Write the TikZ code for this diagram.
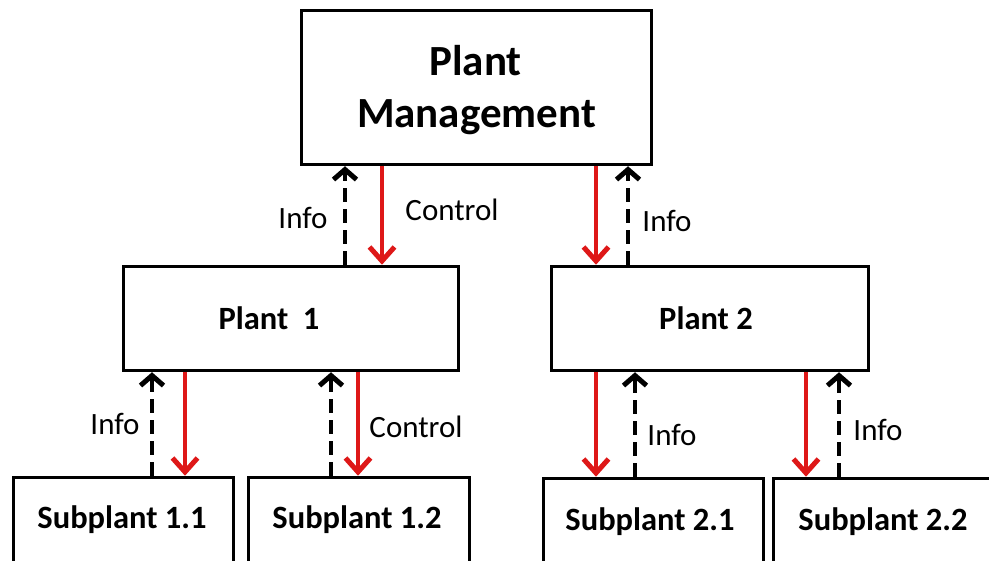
\documentclass[tikz,border=0pt]{standalone}
\usepackage{fontspec}
\setmainfont{Carlito}
\usetikzlibrary{arrows.meta}
\definecolor{ctrlred}{RGB}{222,24,24}
\tikzset{
  unit/.style={draw=black, line width=3.5pt, fill=white, inner sep=0pt},
  boxtext/.style={font=\bfseries\fontsize{32.5}{36}\selectfont, anchor=base, inner sep=0pt},
  toptext/.style={font=\bfseries\fontsize{43}{50}\selectfont, anchor=base, inner sep=0pt},
  flowlabel/.style={font=\fontsize{31}{36}\selectfont, anchor=base, inner sep=0pt},
  info/.style={draw=black, line width=3.8pt, dash pattern=on 14pt off 7pt,
    -{Straight Barb[length=10pt, width=23pt, line width=5pt]}},
  control/.style={draw=ctrlred, line width=3.8pt,
    -{Straight Barb[length=14pt, width=25pt, line width=5pt]}}
}
\begin{document}
\begin{tikzpicture}[x=1pt, y=-1pt]
\useasboundingbox (0,0) rectangle (989,561);
\clip (0,0) rectangle (989,561);
\fill[white] (0,0) rectangle (989,561);

% boxes
\node[unit, minimum width=350pt, minimum height=154pt] (pm) at (476.5,87.5) {};
\node[unit, minimum width=335pt, minimum height=104pt] (p1) at (291,318.5) {};
\node[unit, minimum width=317pt, minimum height=104pt] (p2) at (710,318.5) {};
\node[unit, minimum width=220pt, minimum height=200pt] (s11) at (123.5,577.5) {};
\node[unit, minimum width=221pt, minimum height=200pt] (s12) at (359,577.5) {};
\node[unit, minimum width=220pt, minimum height=200pt] (s21) at (653.5,578.5) {};
\node[unit, minimum width=220pt, minimum height=200pt] (s22) at (883.5,578.5) {};

% box titles
\node[toptext] (pmt1) at (475.5,76) {Plant};
\node[toptext] (pmt2) at (476.5,128) {Management};
\node[boxtext] (p1t) at (269,330) {Plant~~1};
\node[boxtext] (p2t) at (706,330) {Plant 2};
\node[boxtext] (s11t) at (122,529) {Subplant 1.1};
\node[boxtext] (s12t) at (357,529) {Subplant 1.2};
\node[boxtext] (s21t) at (650,530) {Subplant 2.1};
\node[boxtext] (s22t) at (883,530) {Subplant 2.2};

% management <-> plants
\draw[info]    (p1.north -| 345,0) -- (pm.south -| 345,0);
\draw[control] (pm.south -| 382,0) -- (p1.north -| 382,0);
\draw[control] (pm.south -| 596,0) -- (p2.north -| 596,0);
\draw[info]    (p2.north -| 628,0) -- (pm.south -| 628,0);

% plant 1 <-> subplants
\draw[info]    (s11.north -| 152,0) -- (p1.south -| 152,0);
\draw[control] (p1.south -| 185,0) -- (s11.north -| 185,0);
\draw[info]    (s12.north -| 331,0) -- (p1.south -| 331,0);
\draw[control] (p1.south -| 358,0) -- (s12.north -| 358,0);

% plant 2 <-> subplants
\draw[control] (p2.south -| 596,0) -- (s21.north -| 596,0);
\draw[info]    (s21.north -| 635,0) -- (p2.south -| 635,0);
\draw[control] (p2.south -| 806,0) -- (s22.north -| 806,0);
\draw[info]    (s22.north -| 839,0) -- (p2.south -| 839,0);

% flow labels
\node[flowlabel] (l1) at (303,229) {Info};
\node[flowlabel] (l2) at (452,221) {Control};
\node[flowlabel] (l3) at (667,232) {Info};
\node[flowlabel] (l4) at (115,435) {Info};
\node[flowlabel] (l5) at (416,438) {Control};
\node[flowlabel] (l6) at (672,446) {Info};
\node[flowlabel] (l7) at (878,441) {Info};
\end{tikzpicture}
\end{document}
